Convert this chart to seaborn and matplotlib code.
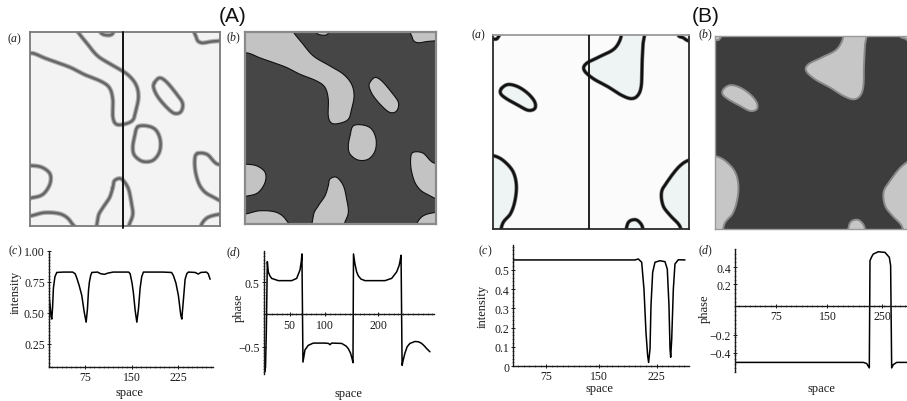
import numpy as np
import pandas as pd
import matplotlib
matplotlib.use("Agg")
import matplotlib.pyplot as plt
from matplotlib.ticker import FixedLocator, MultipleLocator
import seaborn as sns

# ---------------- data: 1-D profiles ----------------
a_int_x = [17, 18.8, 20.3, 21.5, 22.8, 24.1, 26.5, 29.5, 40, 55, 59, 61.7, 65.5, 69.7, 73.5, 76.7,
           78.8, 80.5, 82, 84, 85.8, 95, 100, 106, 112, 120, 145, 147.4, 150.5, 152.7, 155.5,
           158.2, 160.8, 163.5, 166, 168.8, 200, 214, 217, 221, 225, 228.9, 230.5, 233, 235.8,
           238.5, 241, 252, 257, 261, 270, 273, 276]
a_int_y = [0.64, 0.56, 0.47, 0.45, 0.55, 0.70, 0.79, 0.825, 0.828, 0.828, 0.815, 0.78, 0.72, 0.64,
           0.51, 0.425, 0.53, 0.68, 0.75, 0.80, 0.825, 0.828, 0.815, 0.81, 0.82, 0.828, 0.828,
           0.815, 0.74, 0.66, 0.52, 0.425, 0.53, 0.70, 0.79, 0.828, 0.828, 0.825, 0.80, 0.74,
           0.64, 0.48, 0.45, 0.60, 0.77, 0.815, 0.828, 0.825, 0.812, 0.825, 0.828, 0.815, 0.77]

a_ph_x = [17.5, 18.5, 19.8, 21.0, 22.6, 24.1, 26.5, 29.3, 39.5, 60.2, 67.9, 73.0, 75.0, 76.0,
          77.6, 80.7, 85.8, 93.5, 111.6, 117, 119.3, 121.9, 137.3, 144, 147.5, 151, 153.5,
          154.8, 155.6, 157.9, 160.5, 163, 167, 173.3, 204.2, 214.5, 222.2, 226, 227.3, 229,
          230.6, 232.5, 235, 238.5, 242.7, 250.5, 256, 260.8, 265, 268.5, 273.6]
a_ph_y = [-0.72, -0.89, -0.82, -0.3, 0.82, 0.66, 0.60, 0.56, 0.525, 0.525, 0.56, 0.69, 0.82, 0.94,
          -0.74, -0.55, -0.48, -0.445, -0.445, -0.45, -0.47, -0.445, -0.45, -0.49, -0.53, -0.6,
          -0.69, -0.75, 0.94, 0.78, 0.66, 0.6, 0.55, 0.525, 0.525, 0.56, 0.66, 0.76, 0.82, 0.92,
          -0.79, -0.7, -0.6, -0.5, -0.45, -0.42, -0.425, -0.45, -0.49, -0.53, -0.58]

b_int_x = [31, 195.5, 200, 204.6, 207.7, 210.4, 212.7, 214, 215.9, 217.2, 219.5, 222.6, 229.4,
           236.2, 239.3, 241.6, 243, 243.9, 245.3, 247.5, 249.7, 254.2, 263.3]
b_int_y = [0.551, 0.551, 0.556, 0.539, 0.40, 0.176, 0.055, 0.02, 0.09, 0.314, 0.487, 0.539, 0.547,
           0.542, 0.504, 0.314, 0.09, 0.047, 0.141, 0.40, 0.53, 0.552, 0.551]

b_ph_x = [16, 201.9, 206.8, 210.6, 211.6, 214, 216.4, 223.6, 233.3, 239.6, 241.5, 243, 245.4, 250.3, 268]
b_ph_y = [-0.51, -0.51, -0.52, -0.56, 0.415, 0.45, 0.475, 0.496, 0.49, 0.445, 0.37, -0.56, -0.53,
          -0.51, -0.51]

# tick labels as printed on the original axes
a_int_xticks, a_int_xlabels = [75, 150, 225], ["75", "150", "225"]
a_int_yticks, a_int_ylabels = [0.25, 0.5, 0.75, 1.0], ["0.25", "0.50", "0.75", "1.00"]
a_ph_xticks, a_ph_xlabels = [57, 111, 194], ["50", "100", "200"]
a_ph_yticks, a_ph_ylabels = [-0.5, 0.5, 1.0], ["\u22120.5", "0.5", "1.0"]
b_int_xticks, b_int_xlabels = [75, 147, 225], ["75", "150", "225"]
b_int_yticks, b_int_ylabels = [0, 0.1, 0.2, 0.3, 0.4, 0.5], ["0", "0.1", "0.2", "0.3", "0.4", "0.5"]
b_ph_xticks, b_ph_xlabels = [75, 150, 229], ["75", "150", "250"]
b_ph_yticks, b_ph_ylabels = [-0.42, -0.26, 0.2, 0.355], ["\u22120.4", "\u22120.2", "0.2", "0.4"]

# ---------------- data: domain outlines (fraction of box, v downward) ----------------
A_band = [(0.253, 0.0), (0.297, 0.055), (0.358, 0.125), (0.445, 0.177), (0.515, 0.22), (0.558, 0.272),
          (0.571, 0.333), (0.558, 0.402), (0.541, 0.454), (0.497, 0.475), (0.454, 0.475), (0.436, 0.437),
          (0.436, 0.35), (0.419, 0.289), (0.375, 0.255), (0.288, 0.22), (0.218, 0.185), (0.148, 0.159),
          (0.079, 0.135), (0.017, 0.11), (-0.06, 0.10), (-0.06, -0.06), (0.22, -0.06)]
A_sliver = [(0.36, -0.05), (0.37, 0.0), (0.40, 0.016), (0.435, 0.008), (0.445, -0.05)]
A_top_right = [(0.87, -0.05), (0.876, 0.03), (0.90, 0.055), (0.95, 0.05), (1.06, 0.03), (1.06, -0.05)]
A_ellipse = [(0.654, 0.263), (0.681, 0.237), (0.716, 0.255), (0.768, 0.315), (0.803, 0.367),
             (0.794, 0.411), (0.759, 0.419), (0.716, 0.385), (0.672, 0.333), (0.651, 0.289)]
A_center = [(0.567, 0.489), (0.620, 0.485), (0.663, 0.506), (0.686, 0.558), (0.681, 0.619),
            (0.646, 0.662), (0.593, 0.667), (0.550, 0.636), (0.541, 0.593), (0.550, 0.541)]
A_right = [(0.88, 0.627), (0.932, 0.631), (0.984, 0.68), (1.06, 0.70), (1.06, 0.875),
           (0.951, 0.844), (0.899, 0.80), (0.873, 0.731), (0.867, 0.662)]
A_left = [(-0.06, 0.685), (0.0, 0.688), (0.061, 0.697), (0.105, 0.731), (0.105, 0.783),
          (0.07, 0.835), (0.017, 0.853), (-0.06, 0.855)]
A_bottom_c = [(0.436, 0.801), (0.445, 0.766), (0.48, 0.757), (0.515, 0.801), (0.532, 0.87),
              (0.541, 0.94), (0.52, 1.0), (0.51, 1.06), (0.362, 1.06), (0.358, 0.957),
              (0.384, 0.905), (0.419, 0.853)]
A_bottom_l = [(-0.06, 0.945), (0.0, 0.948), (0.079, 0.931), (0.166, 0.94), (0.218, 0.983),
              (0.245, 1.06), (-0.06, 1.06)]
A_bottom_r = [(0.89, 1.06), (0.899, 1.0), (0.934, 0.957), (1.0, 0.939), (1.06, 0.935), (1.06, 1.06)]

B_top = [(0.64, -0.06), (0.655, 0.0), (0.621, 0.069), (0.543, 0.112), (0.476, 0.147), (0.465, 0.181),
         (0.510, 0.224), (0.587, 0.267), (0.655, 0.31), (0.706, 0.328), (0.740, 0.31), (0.757, 0.259),
         (0.760, 0.155), (0.765, 0.052), (0.77, -0.06)]
B_ellipse = [(0.043, 0.276), (0.077, 0.255), (0.128, 0.267), (0.179, 0.302), (0.213, 0.345),
             (0.213, 0.379), (0.179, 0.388), (0.128, 0.362), (0.068, 0.328), (0.039, 0.302)]
B_left = [(-0.06, 0.61), (0.0, 0.621), (0.05, 0.645), (0.10, 0.70), (0.119, 0.77), (0.113, 0.85),
          (0.09, 0.92), (0.05, 0.97), (0.02, 1.06), (-0.06, 1.06)]
B_right = [(1.06, 0.64), (1.0, 0.645), (0.948, 0.68), (0.89, 0.755), (0.86, 0.81), (0.868, 0.88),
           (0.905, 0.931), (0.952, 0.983), (0.98, 1.06), (1.06, 1.06)]
B_bottom = [(0.675, 1.06), (0.68, 1.0), (0.694, 0.962), (0.727, 0.952), (0.752, 0.97), (0.765, 1.0),
            (0.77, 1.06)]
B_corner_tl = [(-0.06, 0.025), (0.0, 0.022), (0.026, 0.012), (0.05, -0.06), (-0.06, -0.06)]
B_corner_tr = [(0.94, -0.06), (0.945, 0.0), (0.97, 0.014), (1.0, 0.031), (1.06, 0.035), (1.06, -0.06)]

A_blobs = [A_band, A_sliver, A_top_right, A_ellipse, A_center, A_right, A_left, A_bottom_c,
           A_bottom_l, A_bottom_r]
B_blobs = [B_top, B_ellipse, B_left, B_right, B_bottom, B_corner_tl, B_corner_tr]
A_cut = 0.49
B_cut = 0.488

# ---------------- style ----------------
sns.set_style("white")
plt.rcParams["font.family"] = ["Liberation Serif", "DejaVu Serif"]
plt.rcParams["mathtext.fontset"] = "custom"
plt.rcParams["mathtext.rm"] = "Liberation Serif"
plt.rcParams["mathtext.it"] = "Liberation Serif:italic"

W, H = 907, 402
fig = plt.figure(figsize=(W / 100, H / 100), dpi=100)
fig.patch.set_facecolor("white")


def px_axes(x0, y0, x1, y1):
    return fig.add_axes([x0 / W, 1 - y1 / H, (x1 - x0) / W, (y1 - y0) / H])


def ftext(x, y, s, **kw):
    kw.setdefault("ha", "center")
    kw.setdefault("va", "center")
    fig.text(x / W, 1 - y / H, s, **kw)


def smooth_closed(pts, n=14):
    P = np.asarray(pts, float)
    m = len(P)
    t = np.linspace(0, 1, n, endpoint=False)[:, None]
    segs = []
    for i in range(m):
        p0, p1, p2, p3 = P[(i - 1) % m], P[i], P[(i + 1) % m], P[(i + 2) % m]
        segs.append(0.5 * (2 * p1 + (-p0 + p2) * t + (2 * p0 - 5 * p1 + 4 * p2 - p3) * t ** 2
                           + (-p0 + 3 * p1 - 3 * p2 + p3) * t ** 3))
    out = np.vstack(segs)
    return np.vstack([out, out[:1]])


def field_axes(ax, bg, border, blw):
    ax.set_xlim(0, 1)
    ax.set_ylim(1, 0)
    ax.set_xticks([])
    ax.set_yticks([])
    ax.set_facecolor(bg)
    for s in ax.spines.values():
        s.set_visible(True)
        s.set_color(border)
        s.set_linewidth(blw)
        s.set_zorder(10)


# ---- A(a): intensity field ----
ax = px_axes(30, 33, 220, 227)
field_axes(ax, "#f3f3f3", "#7a7a7a", 1.3)
for b in A_blobs:
    c = smooth_closed(b)
    ax.plot(c[:, 0], c[:, 1], color="#b0b0b0", lw=3.4, solid_capstyle="round")
    ax.plot(c[:, 0], c[:, 1], color="#666666", lw=1.8)
ax.plot([A_cut, A_cut], [0, 1.012], color="#111111", lw=1.4, clip_on=False, zorder=11)

# ---- A(b): phase field ----
ax = px_axes(245, 33, 436, 225)
field_axes(ax, "#464646", "#8a8a8a", 1.6)
for b in A_blobs:
    c = smooth_closed(b)
    ax.fill(c[:, 0], c[:, 1], facecolor="#c3c3c3", edgecolor="#101010", lw=0.8)

# ---- B(a): intensity field ----
ax = px_axes(493, 36, 689, 230)
field_axes(ax, "#fbfbfb", "#2a2a2a", 1.3)
ax.spines["top"].set_color("#9a9a9a")
for b in B_blobs:
    c = smooth_closed(b)
    ax.fill(c[:, 0], c[:, 1], facecolor="#eef3f3", edgecolor="none")
    ax.plot(c[:, 0], c[:, 1], color="#777777", lw=2.8)
    ax.plot(c[:, 0], c[:, 1], color="#111111", lw=1.8)
ax.plot([B_cut, B_cut], [0, 1], color="#111111", lw=1.3, zorder=11)

# ---- B(b): phase field ----
ax = px_axes(715, 37, 911, 230)
field_axes(ax, "#3d3d3d", "#9a9a9a", 1.0)
for b in B_blobs:
    c = smooth_closed(b)
    ax.fill(c[:, 0], c[:, 1], facecolor="#c6c6c6", edgecolor="#8a8a8a", lw=1.4)


# ---------------- line plots ----------------
def profile(ax, xs, ys, xlim, ylim, xt, xl, yt, yl, xminor, yminor, zero_axis=False):
    df = pd.DataFrame({"space": xs, "value": ys})
    sns.lineplot(data=df, x="space", y="value", sort=False, estimator=None,
                 color="black", linewidth=1.1, ax=ax)
    ax.set_xlabel("")
    ax.set_ylabel("")
    ax.set_xlim(xlim)
    ax.set_ylim(ylim)
    ax.set_facecolor("none")
    for s in ["top", "right"]:
        ax.spines[s].set_visible(False)
    for s in ["left", "bottom"]:
        ax.spines[s].set_color("#1a1a1a")
        ax.spines[s].set_linewidth(1.0)
    if zero_axis:
        ax.spines["bottom"].set_position(("data", 0))
    ax.xaxis.set_major_locator(FixedLocator(xt))
    ax.set_xticklabels(xl)
    ax.yaxis.set_major_locator(FixedLocator(yt))
    ax.set_yticklabels(yl)
    ax.xaxis.set_minor_locator(MultipleLocator(xminor))
    ax.yaxis.set_minor_locator(MultipleLocator(yminor))
    ax.tick_params(which="major", direction="inout", length=3, width=0.7, labelsize=8.5, pad=1.5,
                   colors="#1a1a1a", bottom=True, left=True)
    ax.tick_params(which="minor", direction="inout", length=1.6, width=0.5, colors="#555555",
                   bottom=True, left=True)
    for lab in ax.get_xticklabels() + ax.get_yticklabels():
        lab.set_color("#1a1a1a")


ax = px_axes(49, 251.7, 212.6, 368.3)
profile(ax, a_int_x, a_int_y, (17, 280), (0.062, 1.0), a_int_xticks, a_int_xlabels,
        a_int_yticks, a_int_ylabels, 7.5, 0.025)

ax = px_axes(263.7, 251.7, 434.1, 375)
profile(ax, a_ph_x, a_ph_y, (17, 280), (-0.925, 0.99), a_ph_xticks, a_ph_xlabels,
        a_ph_yticks, a_ph_ylabels, 7.5, 0.05, zero_axis=True)

ax = px_axes(513.3, 245.7, 689.2, 367.3)
profile(ax, b_int_x, b_int_y, (30.6, 269), (0, 0.63), b_int_xticks, b_int_xlabels,
        b_int_yticks, b_int_ylabels, 7.5, 0.02)

ax = px_axes(735, 250.1, 910.3, 373.3)
profile(ax, b_ph_x, b_ph_y, (16, 270), (-0.6, 0.52), b_ph_xticks, b_ph_xlabels,
        b_ph_yticks, b_ph_ylabels, 7.5, 0.04, zero_axis=True)

# ---------------- texts ----------------
sans = ["Liberation Sans", "DejaVu Sans"]
ftext(232.5, 17, "(A)", fontsize=15, family=sans, color="#111111")
ftext(705.5, 17, "(B)", fontsize=15, family=sans, color="#111111")

lab_kw = dict(fontsize=8.5, color="#1a1a1a")
for x, y, s in [(14.7, 39, "a"), (233.7, 38, "b"), (479, 35.5, "a"), (705.5, 35.5, "b"),
                (15, 251.7, "c"), (234, 253, "d"), (485, 251.7, "c"), (706, 251, "d")]:
    ftext(x, y, "($\\mathit{" + s + "}$)", **lab_kw)

ax_kw = dict(fontsize=9, color="#1a1a1a")
ftext(15.8, 292, "intensity", rotation=90, **ax_kw)
ftext(129, 393, "space", **ax_kw)
ftext(239, 307.5, "phase", rotation=90, **ax_kw)
ftext(348, 394, "space", **ax_kw)
ftext(482.5, 306, "intensity", rotation=90, **ax_kw)
ftext(599, 389.5, "space", **ax_kw)
ftext(704.5, 309, "phase", rotation=90, **ax_kw)
ftext(821.7, 389, "space", **ax_kw)

fig.savefig("out.png", dpi=100)
